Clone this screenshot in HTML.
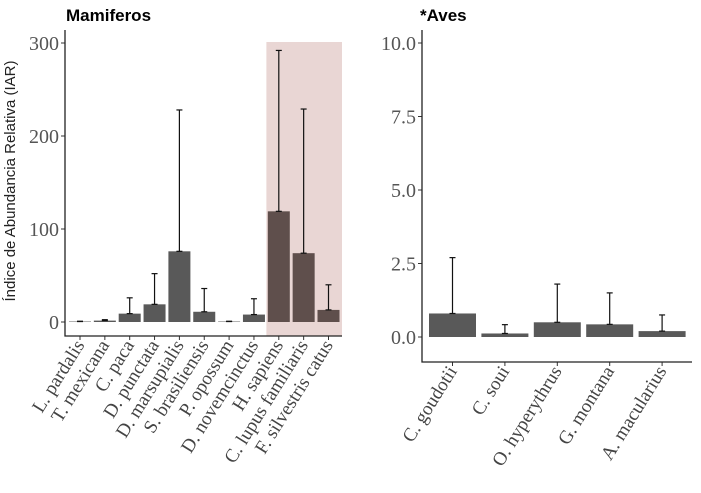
<!DOCTYPE html>
<html><head><meta charset="utf-8"><style>
body{margin:0;background:#fff;}
svg{display:block;font-family:"Liberation Serif",serif;}
</style></head><body>
<svg id="c" width="701" height="493" xmlns="http://www.w3.org/2000/svg">
<text x="66" y="21" font-family="Liberation Sans, sans-serif" font-weight="bold" font-size="17" fill="#000">Mamiferos</text>
<text x="420" y="21" font-family="Liberation Sans, sans-serif" font-weight="bold" font-size="17" fill="#000">*Aves</text>
<text transform="translate(15,181) rotate(-90)" text-anchor="middle" font-family="Liberation Sans, sans-serif" font-size="15" fill="#222">Índice de Abundancia Relativa (IAR)</text>
</svg>
<script>
const mamCats=["L. pardalis","T. mexicana","C. paca","D. punctata","D. marsupialis","S. brasiliensis","P. opossum","D. novemcinctus","H. sapiens","C. lupus familiaris","F. silvestris catus"];
const mamVals=[0.5,1.5,9,19,76,11,0.5,8,119,74,13];
const mamErr=[0.8,2.5,26,52,228,36,0.8,25,292,229,40];
const mamHighlight=[false,false,false,false,false,false,false,false,true,true,true];
const mamTicks=[0,100,200,300];
const aveCats=["C. goudotii","C. soui","O. hyperythrus","G. montana","A. macularius"];
const aveVals=[0.8,0.12,0.5,0.43,0.2];
const aveErr=[2.7,0.42,1.8,1.5,0.75];
const aveTicks=["0.0","2.5","5.0","7.5","10.0"];

const svg=document.getElementById('c');
const NS='http://www.w3.org/2000/svg';
function mk(tag,attrs,parent){const e=document.createElementNS(NS,tag);for(const k in attrs)e.setAttribute(k,attrs[k]);(parent||svg).appendChild(e);return e;}

function panel(o){
  const y=v=>o.y0-(v-o.dmin)/(o.dmax-o.dmin)*(o.y0-o.y1);
  const x=i=>o.xc0+i*o.step;
  if(o.hlStart!=null){
    const r=mk('rect',{x:x(o.hlStart)-o.step/2,y:o.hlTop,width:o.axR-(x(o.hlStart)-o.step/2),height:o.axY-o.hlTop,fill:'#e9d6d4'});
    
    
  }
  o.cats.forEach((c,i)=>{
    const hl=o.hl&&o.hl[i];
    const b=mk('rect',{x:x(i)-o.bw/2,y:y(o.vals[i]),width:o.bw,height:y(0)-y(o.vals[i]),fill:hl?'#5f4f4c':'#595959'});
    
    
    const g=mk('g',{stroke:'#111','stroke-width':1.2});
    
    
    mk('line',{x1:x(i),x2:x(i),y1:y(o.vals[i]),y2:y(o.err[i])},g);
    mk('line',{x1:x(i)-3,x2:x(i)+3,y1:y(o.err[i]),y2:y(o.err[i])},g);
    mk('line',{x1:x(i)-3,x2:x(i)+3,y1:y(o.vals[i]),y2:y(o.vals[i])},g);
    mk('line',{x1:x(i),x2:x(i),y1:o.axY,y2:o.axY+4,stroke:'#333'});
    const t=mk('text',{transform:`translate(${x(i)+5},${o.axY+9}) rotate(${o.rot})`,'text-anchor':'end','font-size':19,fill:'#444'});
    t.textContent=c;
    
    
  });
  o.ticks.forEach(tk=>{
    const v=parseFloat(tk);
    mk('line',{x1:o.axX-4,x2:o.axX,y1:y(v),y2:y(v),stroke:'#333'});
    const t=mk('text',{x:o.axX-6,y:y(v)+7,'text-anchor':'end','font-size':20,fill:'#555'});
    t.textContent=tk;
    
    
  });
  const ax=mk('path',{d:`M${o.axX},${o.axTop}V${o.axY}H${o.axR}`,fill:'none',stroke:'#222','stroke-width':1.3});
  
  
}
panel({cats:mamCats,vals:mamVals,err:mamErr,hl:mamHighlight,ticks:mamTicks.map(String),dmin:0,dmax:300,y0:322,y1:43,xc0:80,step:24.85,bw:22,axX:65,axY:336,axTop:30,axR:342,hlStart:8,hlTop:42,rot:-58});
panel({cats:aveCats,vals:aveVals,err:aveErr,ticks:aveTicks,dmin:0,dmax:10,y0:337,y1:43,xc0:452.5,step:52.4,bw:47,axX:422,axY:362,axTop:30,axR:692,rot:-58});
</script>
</body></html>
